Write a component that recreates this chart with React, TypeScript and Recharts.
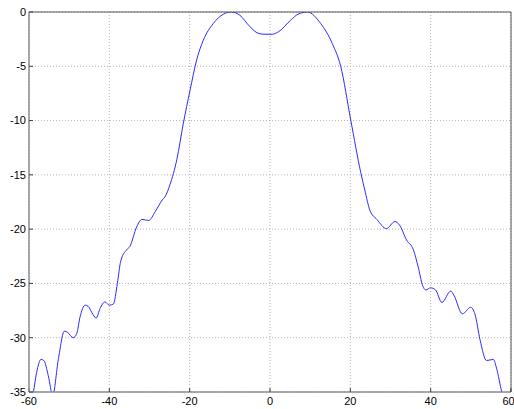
import React from 'react';
import { LineChart, Line, XAxis, YAxis, CartesianGrid } from 'recharts';

// angle (deg) vs level (dB)
const angles = [
  -60, -58.9, -58.1, -57, -56.3, -55.2, -54.1, -52.7, -51.2, -50.4,
  -49, -48.1, -47.3, -46, -45.3, -44, -43.3, -42.3, -41.1, -40,
  -39, -38, -37.2, -35.7, -34.9, -33.2, -31.9, -30.2, -28.6, -26.8,
  -26.1, -24.9, -23.2, -21.6, -19.9, -18.25, -16.6, -14.1, -11.6, -9.6,
  -7.5, -5, -3, -1.5, 0.5, 2.2, 5.15, 7, 9.3, 12.6,
  15.5, 17.6, 20.1, 22.6, 23.6, 24.9, 26.6, 29, 31.1, 32.2,
  34, 35.7, 36.9, 38, 38.8, 40, 41.2, 42.8, 45, 45.8,
  47.9, 49.95, 51, 52.3, 53.9, 55.6, 56.4, 57.7, 58.7, 60,
];
const levels = [
  -36.8, -35, -33.2, -32, -32.1, -33.5, -35.3, -32, -29.4, -29.5,
  -30, -29.6, -28.1, -27, -27.1, -27.9, -28.2, -27.3, -26.7, -27,
  -26.9, -25, -23, -21.9, -21.6, -19.8, -19.1, -19.2, -18.4, -17.3,
  -17, -15.9, -13.6, -10.3, -7.2, -4.4, -2.6, -1.05, -0.2, 0,
  -0.3, -1.35, -1.95, -2.05, -2.05, -1.8, -0.75, -0.2, 0, -1.05,
  -2.9, -5, -9.95, -14.8, -16.4, -18.3, -19.1, -19.95, -19.3, -19.6,
  -21, -21.9, -23.5, -25.2, -25.6, -25.4, -25.6, -26.75, -25.7, -26.1,
  -27.8, -27.2, -27.8, -30.2, -32.1, -32, -32.8, -35, -36.2, -34.7,
];

const xTicks = [-60, -40, -20, 0, 20, 40, 60];
const yTicks = [0, -5, -10, -15, -20, -25, -30, -35];

const data = angles.map((a, i) => ({ angle: a, level: levels[i] }));

const tickFont = { fontSize: 11, fill: '#000', fontFamily: '"Liberation Sans", Arial, sans-serif' };

export default function App() {
  return (
    <div style={{ width: 514, height: 409, background: '#fff' }}>
      <style>{`body { margin: 0; }`}</style>
      <LineChart width={514} height={409} data={data} margin={{ top: 11, right: 2, bottom: 0, left: 0 }}>
        <CartesianGrid stroke="#b4b4b4" strokeDasharray="1 2" />
        <XAxis
          dataKey="angle"
          type="number"
          domain={[-60, 60]}
          ticks={xTicks}
          allowDataOverflow
          height={17}
          stroke="#8c8c8c"
          strokeWidth={1.5}
          tickSize={-4}
          tickMargin={9}
          tick={tickFont}
          tickLine={{ stroke: '#404040', strokeWidth: 1 }}
        />
        <XAxis
          xAxisId="top"
          orientation="top"
          dataKey="angle"
          type="number"
          domain={[-60, 60]}
          ticks={xTicks}
          allowDataOverflow
          height={1}
          stroke="#555"
          tickSize={-4}
          tick={false}
        />
        <YAxis
          type="number"
          domain={[-35, 0]}
          ticks={yTicks}
          allowDataOverflow
          width={29}
          stroke="#8c8c8c"
          strokeWidth={1.5}
          tickSize={-4}
          tickMargin={7}
          tick={tickFont}
          tickLine={{ stroke: '#404040', strokeWidth: 1 }}
        />
        <YAxis
          yAxisId="right"
          orientation="right"
          type="number"
          domain={[-35, 0]}
          ticks={yTicks}
          allowDataOverflow
          width={1}
          stroke="#555"
          tickSize={-4}
          tick={false}
        />
        <Line
          type="monotone"
          dataKey="level"
          stroke="#2b2bff"
          strokeWidth={1}
          dot={false}
          isAnimationActive={false}
        />
        <Line
          xAxisId="top"
          yAxisId="right"
          dataKey="level"
          stroke="none"
          dot={false}
          legendType="none"
          isAnimationActive={false}
        />
      </LineChart>
    </div>
  );
}
